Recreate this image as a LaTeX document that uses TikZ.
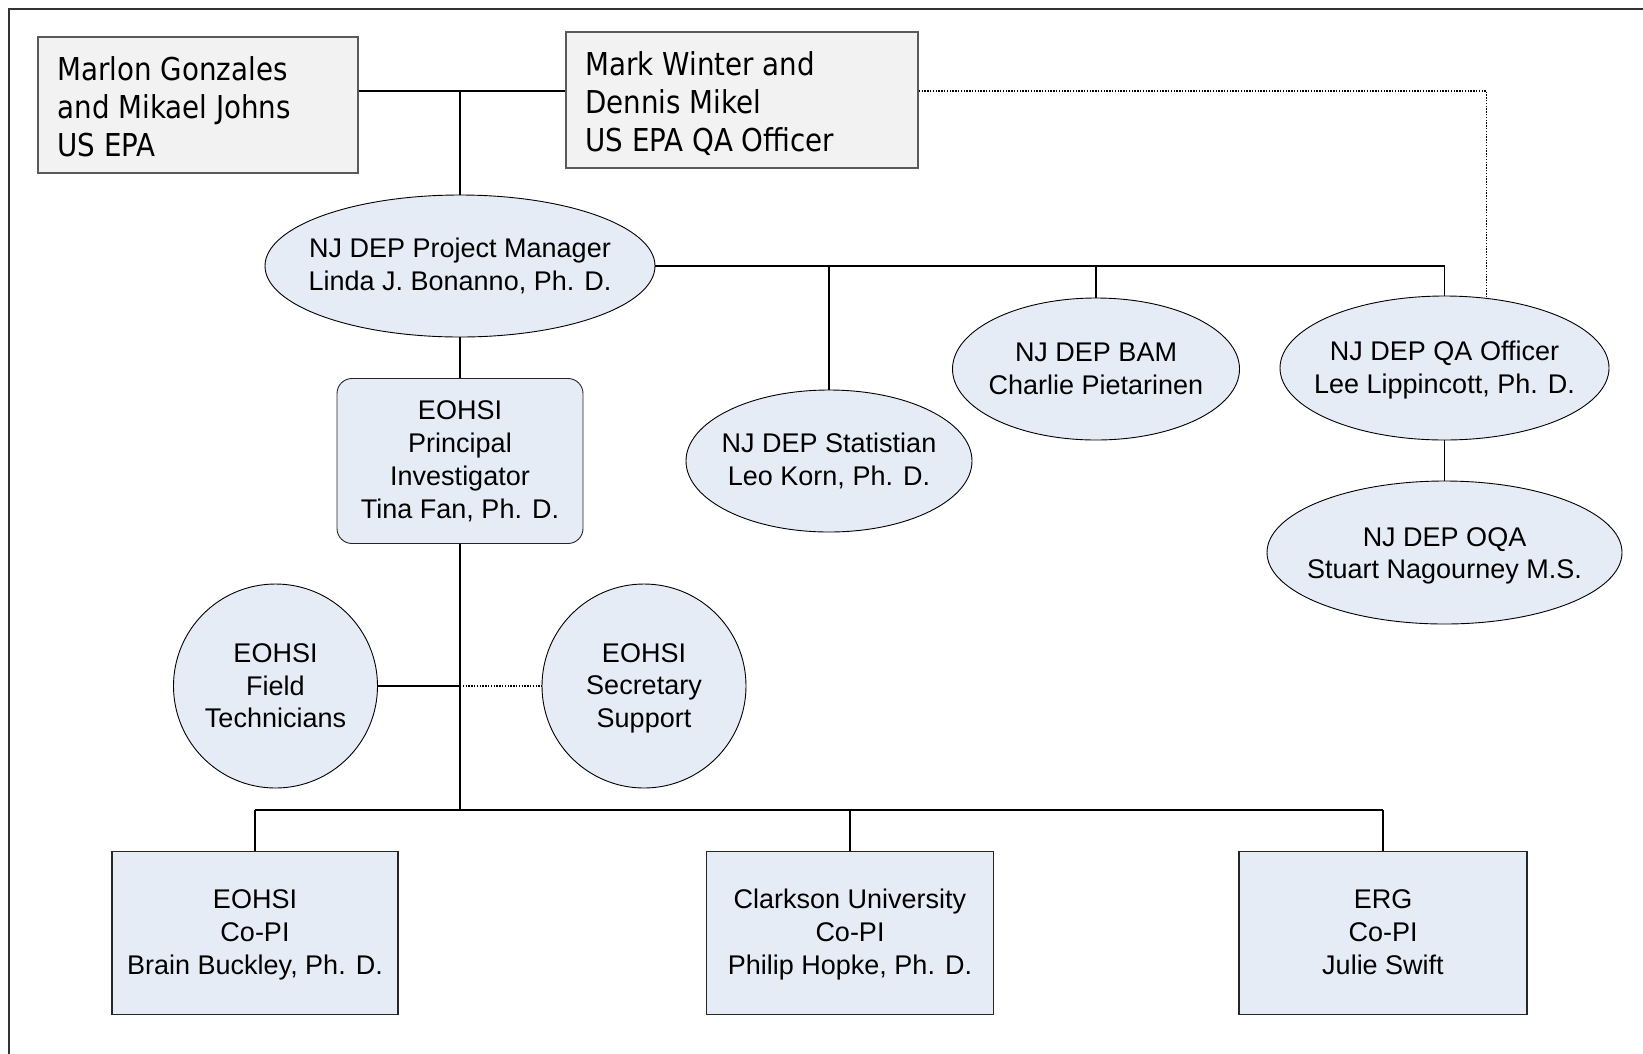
\documentclass[tikz,border=0pt]{standalone}
\usepackage{fontspec}
\setmainfont{Liberation Sans}
\newfontfamily\tahoma[FakeStretch=0.88]{DejaVu Sans}
\usetikzlibrary{shapes.geometric}
\definecolor{framec}{HTML}{333333}
\definecolor{greyfill}{HTML}{F2F2F2}
\definecolor{greyline}{HTML}{5A5A5A}
\definecolor{bluefill}{HTML}{E6ECF6}
\tikzset{
  conn/.style={line width=1.2pt, black},
  dotconn/.style={line width=1.3pt, black, dash pattern=on 1.4pt off 1.4pt},
  topbox/.style={rectangle, draw=greyline, fill=greyfill, line width=1.5pt, inner sep=0pt},
  toptext/.style={anchor=west, inner sep=0pt, align=left,
    font=\tahoma\fontsize{31.5}{38}\selectfont},
  oval/.style={ellipse, draw=black, fill=bluefill, line width=0.9pt, inner sep=0pt},
  ovaltext/.style={inner sep=0pt, align=center, font=\fontsize{27}{32.5}\selectfont},
  pibox/.style={rectangle, rounded corners=15pt, draw=black!85, fill=bluefill, line width=0.9pt,
    inner sep=0pt, align=center, font=\fontsize{27}{33}\selectfont},
  copibox/.style={rectangle, draw=black!85, fill=bluefill, line width=1.2pt,
    inner sep=0pt, minimum width=286pt, minimum height=163pt},
  copitext/.style={inner sep=0pt, align=center, font=\fontsize{27}{33}\selectfont}
}
\begin{document}
\begin{tikzpicture}[x=1pt,y=-1pt]
\clip (0,0) rectangle (1643,1053);
\fill[white] (0,0) rectangle (1643,1053);
\draw[line width=1.6pt, framec] (9,9) rectangle (1700,1100);

% top boxes
\node[topbox, minimum width=320pt, minimum height=136pt] (epa) at (198,105) {};
\node[toptext] (epat) at ([xshift=20pt,yshift=-2pt]epa.west)
  {Marlon Gonzales\\and Mikael Johns\\US EPA};
\node[topbox, minimum width=352pt, minimum height=136pt] (epaqa) at (742,100) {};
\node[toptext] (epaqat) at ([xshift=20pt,yshift=-4pt]epaqa.west)
  {Mark Winter and\\Dennis Mikel\\US EPA QA Officer};

% ellipses
\node[oval, minimum width=390pt, minimum height=142pt] (pm) at (460,266) {};
\node[ovaltext] (pmt) at (pm.center) {NJ DEP Project Manager\\Linda J. Bonanno, Ph. D.};
\node[oval, minimum width=286pt, minimum height=142pt] (stat) at (829,461) {};
\node[ovaltext] (statt) at (stat.center) {NJ DEP Statistian\\Leo Korn, Ph. D.};
\node[oval, minimum width=287pt, minimum height=142pt] (bam) at (1096,369) {};
\node[ovaltext] (bamt) at (bam.center) {NJ DEP BAM\\Charlie Pietarinen};
\node[oval, minimum width=329pt, minimum height=144pt] (qa) at (1444.5,368) {};
\node[ovaltext] (qat) at ([yshift=-2pt]qa.center) {NJ DEP QA Officer\\Lee Lippincott, Ph. D.};
\node[oval, minimum width=355pt, minimum height=143pt] (oqa) at (1444.5,552.5) {};
\node[ovaltext] (oqat) at ([yshift=-3.5pt]oqa.center) {NJ DEP OQA\\Stuart Nagourney M.S.};

% PI
\node[pibox, minimum width=246pt, minimum height=165pt] (pi) at (460,461)
  {EOHSI\\Principal\\Investigator\\Tina Fan, Ph. D.};

% circles
\node[oval, minimum width=204pt, minimum height=204pt] (field) at (275.5,686) {};
\node[ovaltext] (fieldt) at (field.center) {EOHSI\\Field\\Technicians};
\node[oval, minimum width=204pt, minimum height=204pt] (sec) at (644,686) {};
\node[ovaltext] (sect) at ([yshift=-2pt]sec.center) {EOHSI\\Secretary\\Support};

% bottom boxes
\node[copibox] (eohsi) at (255,933) {};
\node[copitext] (eohsit) at ([yshift=-1.5pt]eohsi.center) {EOHSI\\Co-PI\\Brain Buckley, Ph. D.};
\node[copibox, minimum width=287pt] (clark) at (850,933) {};
\node[copitext] (clarkt) at ([yshift=-1.5pt]clark.center) {Clarkson University\\Co-PI\\Philip Hopke, Ph. D.};
\node[copibox, minimum width=288pt] (erg) at (1383,933) {};
\node[copitext] (ergt) at ([yshift=0.5pt]erg.center) {ERG\\Co-PI\\Julie Swift};

% connectors
\coordinate (tj) at (460,91);
\coordinate (fj) at (460,686);
\coordinate (bus) at (460,810);
\draw[conn] (tj -| epa.east) -- (tj -| epaqa.west);
\draw[conn] (tj) -- (pm.north);
\draw[dotconn] (tj -| epaqa.east) -| (qa.59);
\draw[conn] (pm.east) -- (pm.east -| qa.north) -- (qa.north);
\draw[conn] (pm.east -| stat.north) -- (stat.north);
\draw[conn] (pm.east -| bam.north) -- (bam.north);
\draw[conn] (qa.south) -- (oqa.north);
\draw[conn] (pm.south) -- (pi.north);
\draw[conn] (pi.south) -- (bus);
\draw[conn] (field.east) -- (fj);
\draw[dotconn] (fj) -- (sec.west);
\draw[conn] (bus -| eohsi.north) -- (bus -| erg.north);
\draw[conn] (bus -| eohsi.north) -- (eohsi.north);
\draw[conn] (bus -| clark.north) -- (clark.north);
\draw[conn] (bus -| erg.north) -- (erg.north);
\end{tikzpicture}
\end{document}
